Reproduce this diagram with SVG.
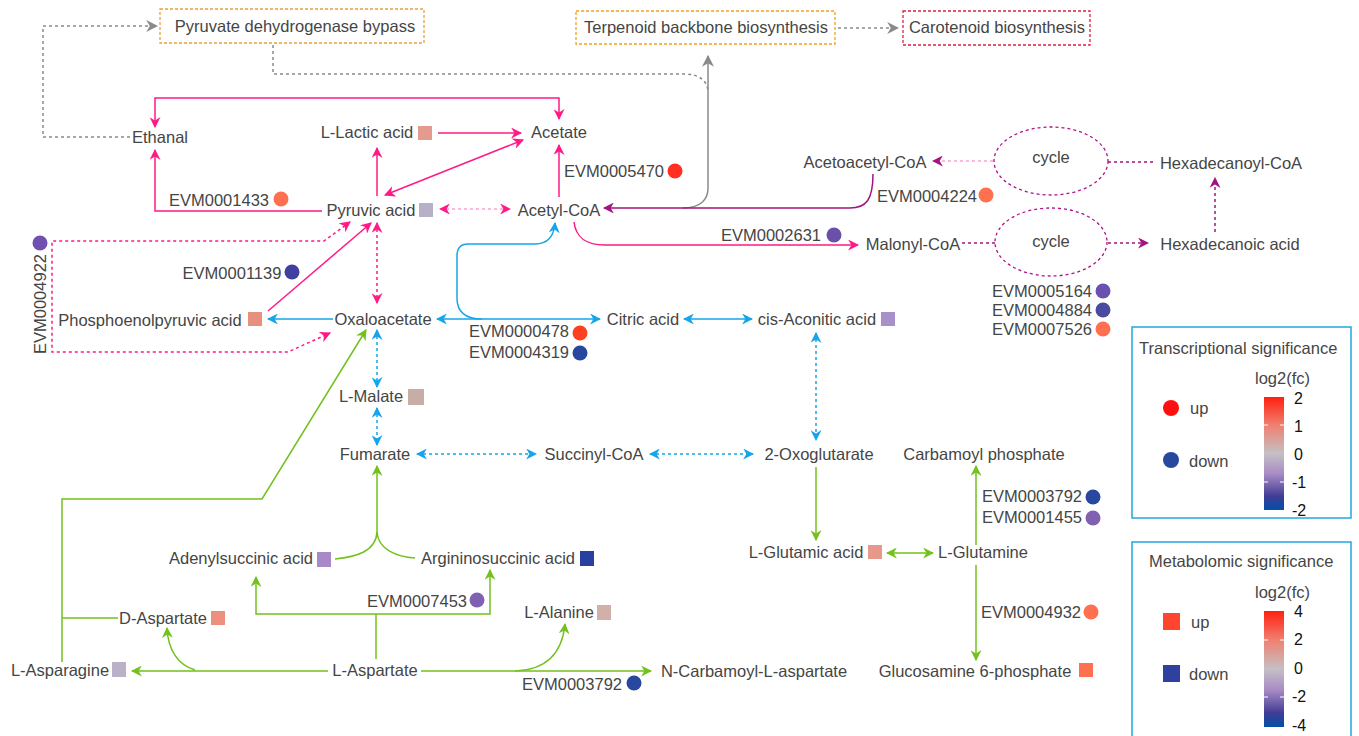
<svg xmlns="http://www.w3.org/2000/svg" width="1359" height="736" viewBox="0 0 1359 736">
<style>
text{font-family:"Liberation Sans",Arial,sans-serif;font-size:16.5px;fill:#454545;text-anchor:middle}
.l{text-anchor:start}
.k{fill:#111;font-size:16px;text-anchor:start}
.c{fill:none;stroke-width:1.5}
.pk{stroke:#ff1a85}.bl{stroke:#14a5ea}.gr{stroke:#72c11d}.pu{stroke:#a3137f}.gy{stroke:#8a8a8a}
.lp{stroke:#ffa0d0}
.d{stroke-dasharray:3 3}
.mp{marker-end:url(#mPk)}.mps{marker-start:url(#mPk)}
.mb{marker-end:url(#mBl)}.mbs{marker-start:url(#mBl)}
.mg{marker-end:url(#mGr)}.mgs{marker-start:url(#mGr)}
.mu{marker-end:url(#mPu)}.my{marker-end:url(#mGy)}
.box{fill:none;stroke-width:1.3;stroke-dasharray:3 2}
.leg{fill:#fff;stroke:#20a8e0;stroke-width:1.5}
</style>
<defs>
<marker id="mPk" viewBox="0 0 10 10" refX="9" refY="5" markerWidth="11" markerHeight="11" markerUnits="userSpaceOnUse" orient="auto-start-reverse"><path d="M0,0 L10,5 L0,10 L3,5z" fill="#ff1a85"/></marker>
<marker id="mBl" viewBox="0 0 10 10" refX="9" refY="5" markerWidth="11" markerHeight="11" markerUnits="userSpaceOnUse" orient="auto-start-reverse"><path d="M0,0 L10,5 L0,10 L3,5z" fill="#14a5ea"/></marker>
<marker id="mGr" viewBox="0 0 10 10" refX="9" refY="5" markerWidth="11" markerHeight="11" markerUnits="userSpaceOnUse" orient="auto-start-reverse"><path d="M0,0 L10,5 L0,10 L3,5z" fill="#72c11d"/></marker>
<marker id="mPu" viewBox="0 0 10 10" refX="9" refY="5" markerWidth="11" markerHeight="11" markerUnits="userSpaceOnUse" orient="auto-start-reverse"><path d="M0,0 L10,5 L0,10 L3,5z" fill="#a3137f"/></marker>
<marker id="mGy" viewBox="0 0 10 10" refX="9" refY="5" markerWidth="12" markerHeight="12" markerUnits="userSpaceOnUse" orient="auto-start-reverse"><path d="M0,0 L10,5 L0,10 L3,5z" fill="#8a8a8a"/></marker>
<linearGradient id="bar" x1="0" y1="0" x2="0" y2="1">
<stop offset="0" stop-color="#ff2010"/><stop offset="0.25" stop-color="#f08070"/><stop offset="0.5" stop-color="#c4c0c4"/><stop offset="0.68" stop-color="#a88cc4"/><stop offset="0.88" stop-color="#403c94"/><stop offset="1" stop-color="#0050a8"/>
</linearGradient>
</defs>

<g id="connectors">
<!-- grey -->
<path class="c gy d my" d="M130,137 H43 V26 H157"/>
<path class="c gy d" d="M273,45 V74 H685 C700,74 708,82 708,92"/>
<path class="c gy my" d="M683,208 C700,208 708,200 708,188 V56"/>
<path class="c gy d my" d="M838,28 H898"/>
<!-- pink -->
<path class="c pk mp" d="M322,211 H155 V150"/>
<path class="c pk mp mps" d="M155,127 V98 H559 V119"/>
<path class="c pk mp" d="M377,196 V148"/>
<path class="c pk mp" d="M438,133 H521"/>
<path class="c pk mp mps" d="M385,195 L523,140"/>
<path class="c lp d mp mps" d="M440,209 H510"/>
<path class="c pk mp" d="M559,197 V145"/>
<path class="c pk mp" d="M574,222 C576,238 586,245 605,245 H858"/>
<path class="c pk mp" d="M268,311 L371,223"/>
<path class="c pk d mp mps" d="M350,222 L324,241 H52 V352 H288 L330,333"/>
<path class="c pk d mp mps" d="M377,223 V303"/>
<!-- blue -->
<path class="c bl mb" d="M333,319 H268"/>
<path class="c bl mb mbs" d="M437,319 H600"/>
<path class="c bl mb" d="M482,319 C465,319 457,312 457,298 V256 C457,248 460,244 468,244 H535 C548,244 554,236 555,223"/>
<path class="c bl mb mbs" d="M684,319 H752"/>
<path class="c bl d mb mbs" d="M816,333 V440"/>
<path class="c bl d mb mbs" d="M377,330 V387"/>
<path class="c bl d mb mbs" d="M377,408 V445"/>
<path class="c bl d mb mbs" d="M417,454 H536"/>
<path class="c bl d mb mbs" d="M650,454 H753"/>
<!-- green -->
<path class="c gr mg" d="M816,467 V540"/>
<path class="c gr mg mgs" d="M887,553 H933"/>
<path class="c gr mg" d="M976,545 V466"/>
<path class="c gr mg" d="M976,565 V660"/>
<path class="c gr mg" d="M62,662 V499 H262 L366,330"/>
<path class="c gr" d="M62,618 H118"/>
<path class="c gr mg" d="M328,671 H132"/>
<path class="c gr mg" d="M195,670 C178,665 168,650 167,628"/>
<path class="c gr mg" d="M421,671 H651"/>
<path class="c gr mg" d="M515,671 C545,670 562,655 565,624"/>
<path class="c gr" d="M376,659 V614"/>
<path class="c gr mg mgs" d="M256,577 V614 H490 V570"/>
<path class="c gr mg" d="M335,559 C355,557 376,552 377,532 V466"/>
<path class="c gr" d="M415,558 C398,557 378,550 377,532"/>
<!-- purple -->
<path class="c pu mu" d="M873,174 C873,200 866,208 850,208 H604"/>
<path class="c lp d mu" d="M993,161 H933"/>
<path class="c pu d" d="M1108,162 H1155"/>
<path class="c pu d" d="M962,243 H995"/>
<path class="c pu d mu" d="M1108,243 H1148"/>
<path class="c pu d mu" d="M1215,232 V178"/>
</g>

<g id="bypass"><rect class="box" x="160" y="9" width="264" height="34" stroke="#e8a040"/><text x="295" y="32">Pyruvate dehydrogenase bypass</text></g>
<g id="terpenoid"><rect class="box" x="576" y="11" width="259" height="33" stroke="#f5a020"/><text x="706" y="33">Terpenoid backbone biosynthesis</text></g>
<g id="carotenoid"><rect class="box" x="903" y="11" width="187" height="34" stroke="#e02040"/><text x="997" y="33">Carotenoid biosynthesis</text></g>

<g id="ethanal"><text x="160" y="143">Ethanal</text></g>
<g id="lactic"><text x="367" y="138">L-Lactic acid</text><rect x="418" y="126" width="14" height="14" fill="#e49a8c"/></g>
<g id="acetate"><text x="559" y="138">Acetate</text></g>
<g id="evm1433"><text x="219" y="206">EVM0001433</text><circle cx="281" cy="199" r="7.5" fill="#ff7050"/></g>
<g id="pyruvic"><text x="371" y="216">Pyruvic acid</text><rect x="419" y="203" width="14" height="14" fill="#b8b0c8"/></g>
<g id="acetylcoa"><text x="559" y="216">Acetyl-CoA</text></g>
<g id="evm5470"><text x="614" y="177">EVM0005470</text><circle cx="675" cy="171" r="7.5" fill="#ff3020"/></g>
<g id="acetoacetyl"><text x="865" y="168">Acetoacetyl-CoA</text></g>
<g id="cycle1"><ellipse cx="1051" cy="161" rx="57" ry="34" fill="none" stroke="#b0108a" stroke-width="1.3" stroke-dasharray="3 3"/><text x="1051" y="163">cycle</text></g>
<g id="hexadecanoylcoa"><text x="1231" y="169">Hexadecanoyl-CoA</text></g>
<g id="evm4224"><text x="927" y="202">EVM0004224</text><circle cx="986" cy="195" r="7.5" fill="#ff7050"/></g>
<g id="malonyl"><text x="913" y="250">Malonyl-CoA</text></g>
<g id="cycle2"><ellipse cx="1051" cy="242" rx="56" ry="34" fill="none" stroke="#b0108a" stroke-width="1.3" stroke-dasharray="3 3"/><text x="1051" y="247">cycle</text></g>
<g id="hexadecanoic"><text x="1230" y="250">Hexadecanoic acid</text></g>
<g id="evm2631"><text x="771" y="241">EVM0002631</text><circle cx="834" cy="235" r="7.5" fill="#6a50a8"/></g>
<g id="evmfa"><text x="1042" y="297">EVM0005164</text><circle cx="1103" cy="291" r="7.5" fill="#6a50b0"/><text x="1042" y="316">EVM0004884</text><circle cx="1103" cy="310" r="7.5" fill="#4a4aa0"/><text x="1042" y="335">EVM0007526</text><circle cx="1103" cy="329" r="7.5" fill="#ff7050"/></g>
<g id="evm4922"><circle cx="40" cy="243" r="7.5" fill="#7050b0"/><text transform="translate(46,304) rotate(-90)">EVM0004922</text></g>
<g id="evm1139"><text x="232" y="279">EVM0001139</text><circle cx="292" cy="272" r="7.5" fill="#4040a0"/></g>
<g id="pep"><text x="150" y="326">Phosphoenolpyruvic acid</text><rect x="248" y="312" width="14" height="14" fill="#e8907f"/></g>
<g id="oxaloacetate"><text x="383" y="325">Oxaloacetate</text></g>
<g id="evmcs"><text x="519" y="337">EVM0000478</text><circle cx="580" cy="333" r="7.5" fill="#ff4020"/><text x="519" y="358">EVM0004319</text><circle cx="580" cy="353" r="7.5" fill="#2848a0"/></g>
<g id="citric"><text x="643" y="325">Citric acid</text></g>
<g id="cisaconitic"><text x="817" y="325">cis-Aconitic acid</text><rect x="881" y="312" width="14" height="14" fill="#a890c8"/></g>
<g id="malate"><text x="371" y="402">L-Malate</text><rect x="408" y="389" width="16" height="16" fill="#c8aca6"/></g>
<g id="fumarate"><text x="375" y="460">Fumarate</text></g>
<g id="succinylcoa"><text x="594" y="460">Succinyl-CoA</text></g>
<g id="oxoglutarate"><text x="819" y="460">2-Oxoglutarate</text></g>
<g id="carbamoylp"><text x="984" y="460">Carbamoyl phosphate</text></g>
<g id="evmcp"><text x="1032" y="502">EVM0003792</text><circle cx="1093" cy="497" r="7.5" fill="#2848a0"/><text x="1032" y="523">EVM0001455</text><circle cx="1093" cy="518" r="7.5" fill="#8060b0"/></g>
<g id="glutamic"><text x="806" y="558">L-Glutamic acid</text><rect x="868" y="545" width="14" height="14" fill="#e8988a"/></g>
<g id="glutamine"><text x="983" y="558">L-Glutamine</text></g>
<g id="evm4932"><text x="1031" y="618">EVM0004932</text><circle cx="1091" cy="612" r="7.5" fill="#ff7050"/></g>
<g id="glucosamine"><text x="975" y="677">Glucosamine 6-phosphate</text><rect x="1079" y="663" width="14" height="14" fill="#ff7050"/></g>
<g id="adenylsuccinic"><text x="241" y="564">Adenylsuccinic acid</text><rect x="317" y="552" width="14" height="15" fill="#a888c8"/></g>
<g id="argininosuccinic"><text x="498" y="564">Argininosuccinic acid</text><rect x="580" y="551" width="14" height="15" fill="#2840a0"/></g>
<g id="evm7453"><text x="417" y="607">EVM0007453</text><circle cx="477" cy="600" r="7.5" fill="#8060b0"/></g>
<g id="daspartate"><text x="163" y="624">D-Aspartate</text><rect x="211" y="611" width="14" height="14" fill="#ee9080"/></g>
<g id="alanine"><text x="559" y="618">L-Alanine</text><rect x="597" y="605" width="14" height="15" fill="#d0b0a8"/></g>
<g id="asparagine"><text x="60" y="676">L-Asparagine</text><rect x="112" y="662" width="14" height="15" fill="#bcb0c8"/></g>
<g id="laspartate"><text x="375" y="676">L-Aspartate</text></g>
<g id="ncarbamoyl"><text x="754" y="677">N-Carbamoyl-L-aspartate</text></g>
<g id="evm3792b"><text x="572" y="690">EVM0003792</text><circle cx="634" cy="683" r="7.5" fill="#2848a0"/></g>

<g id="legend-transcript">
<rect class="leg" x="1132" y="327" width="219" height="191"/>
<text class="l" x="1139" y="354">Transcriptional significance</text>
<text class="l" x="1255" y="384">log2(fc)</text>
<circle cx="1171" cy="408" r="8" fill="#ff1010"/><text class="l" x="1190" y="414">up</text>
<circle cx="1171" cy="460" r="8" fill="#2848a0"/><text class="l" x="1189" y="467">down</text>
<rect x="1264" y="397" width="20" height="113" fill="url(#bar)"/>
<path d="M1264,425H1268M1280,425H1284M1264,482H1268M1280,482H1284" stroke="#fff" stroke-width="1"/>
<text class="k" x="1294" y="404">2</text><text class="k" x="1294" y="432">1</text><text class="k" x="1294" y="460">0</text><text class="k" x="1292" y="488">-1</text><text class="k" x="1292" y="516">-2</text>
</g>
<g id="legend-metabolite">
<rect class="leg" x="1132" y="542" width="219" height="200"/>
<text class="l" x="1149" y="567">Metabolomic significance</text>
<text class="l" x="1255" y="598">log2(fc)</text>
<rect x="1163" y="613" width="17" height="17" fill="#ff4530"/><text class="l" x="1191" y="628">up</text>
<rect x="1163" y="665" width="17" height="17" fill="#3040a0"/><text class="l" x="1189" y="680">down</text>
<rect x="1264" y="611" width="20" height="116" fill="url(#bar)"/>
<path d="M1264,640H1268M1280,640H1284M1264,697H1268M1280,697H1284" stroke="#fff" stroke-width="1"/>
<text class="k" x="1294" y="617">4</text><text class="k" x="1294" y="645">2</text><text class="k" x="1294" y="674">0</text><text class="k" x="1292" y="702">-2</text><text class="k" x="1292" y="731">-4</text>
</g>
</svg>
